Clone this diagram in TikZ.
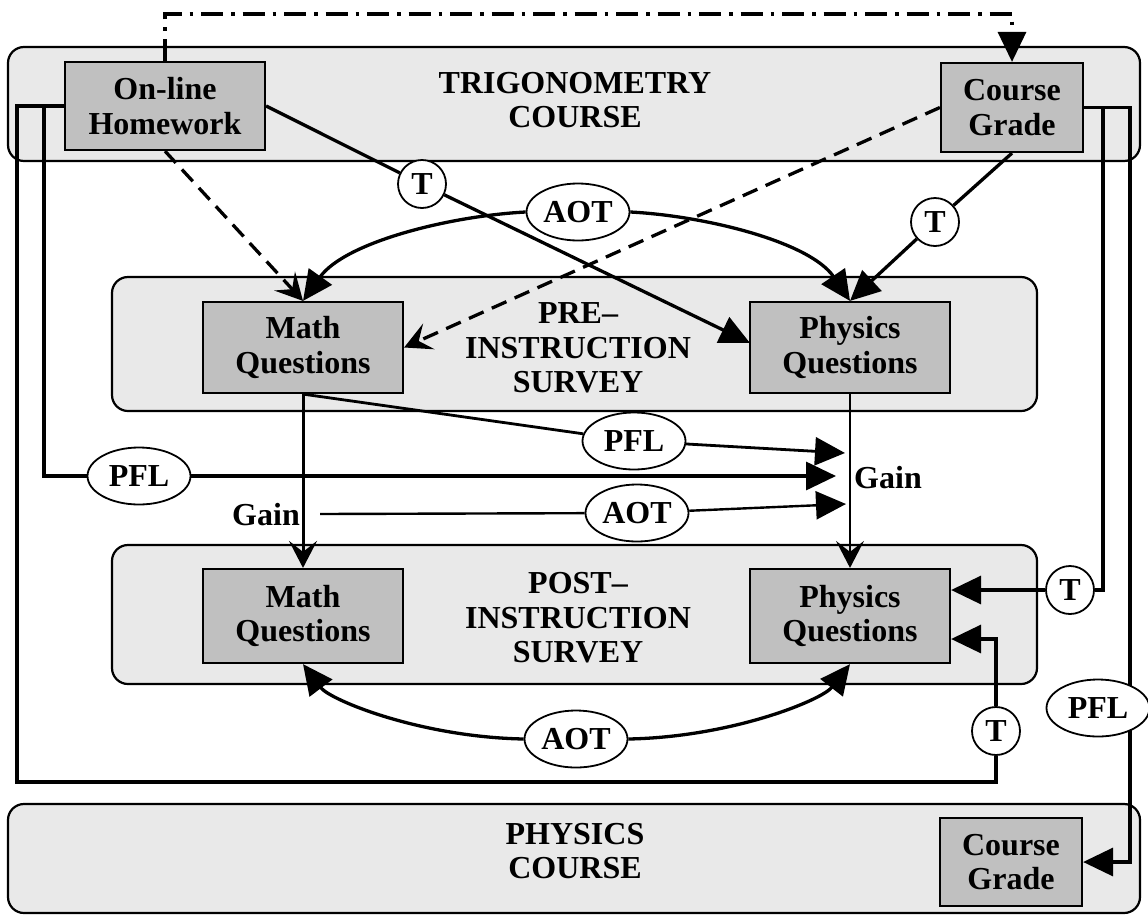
\documentclass[tikz,border=0pt]{standalone}
\usepackage{fontspec}
\setmainfont{Liberation Serif}
\usetikzlibrary{arrows.meta,shapes.geometric,calc}
\definecolor{panel}{HTML}{E9E9E9}
\definecolor{boxg}{HTML}{C0C0C0}
\begin{document}
\begin{tikzpicture}[x=1pt,y=-1pt,
  every node/.style={font=\fontsize{32}{34.5}\selectfont\bfseries, align=center, inner sep=0pt},
  panelbox/.style={draw, fill=panel, line width=2.2pt, rounded corners=16pt},
  qbox/.style={draw, fill=boxg, line width=2.2pt, minimum width=200pt},
  tcirc/.style={draw, fill=white, circle, line width=1.8pt, minimum size=48pt},
  oval/.style={draw, fill=white, ellipse, line width=1.8pt, minimum width=103pt, minimum height=57pt},
  conn/.style={line width=3.3pt},
  tri/.style={-{Triangle[length=30pt,width=28pt]}},
  barb/.style={-{Stealth[length=27pt,width=28pt,inset=11pt]}},
  dsh/.style={conn, dash pattern=on 16pt off 9pt},
  dashdot/.style={conn, dash pattern=on 22pt off 8pt on 3.5pt off 8pt},
]
\useasboundingbox (0,0) rectangle (1148,916);
% panels
\node[panelbox, minimum width=1132pt, minimum height=114pt] (trig) at (574,104) {};
\node[panelbox, minimum width=925pt, minimum height=134pt] (pre) at (574.5,344) {};
\node[panelbox, minimum width=925pt, minimum height=139pt] (post) at (574.5,614.5) {};
\node[panelbox, minimum width=1132pt, minimum height=109pt] (phys) at (574,858.5) {};
% titles
\node (trigt) at (575,100) {TRIGONOMETRY\\COURSE};
\node (pret) at (578,348) {PRE–\\INSTRUCTION\\SURVEY};
\node (postt) at (578,618) {POST–\\INSTRUCTION\\SURVEY};
\node (physt) at (575,851) {PHYSICS\\COURSE};
% boxes
\node[qbox, minimum height=88pt] (hw) at (165,106) {On-line\\Homework};
\node[qbox, minimum width=142pt, minimum height=89pt] (cg1) at (1012,107.5) {Course\\Grade};
\node[qbox, minimum height=91pt] (mathpre) at (303,347.5) {Math\\Questions};
\node[qbox, minimum height=91pt] (physpre) at (850,347.5) {Physics\\Questions};
\node[qbox, minimum height=94pt] (mathpost) at (303,616) {Math\\Questions};
\node[qbox, minimum height=94pt] (physpost) at (850,616) {Physics\\Questions};
\node[qbox, minimum width=142pt, minimum height=88pt] (cg2) at (1011,862) {Course\\Grade};
% labels
\node[tcirc] (t1) at (422,184) {T};
\node[tcirc] (t2) at (935,222) {T};
\node[tcirc] (t3) at (1070,590) {T};
\node[tcirc] (t4) at (996,731) {T};
\node[oval] (aot1) at (578,212) {AOT};
\node[oval] (pfl1) at (634,441) {PFL};
\node[oval] (pfl2) at (139,476) {PFL};
\node[oval] (aot2) at (637,513) {AOT};
\node[oval] (aot3) at (576,739) {AOT};
\node (gainl) at (266,515) {Gain};
\node (gainr) at (888,478) {Gain};
% coordinates
\coordinate (g1) at (845,453);
\coordinate (g2) at (836,476);
\coordinate (g3) at (846,504);
\coordinate (a0) at (320,514);
\coordinate (p1) at (750,343);
\coordinate (hl1) at (44,106);
\coordinate (hl2) at (17,106);
\coordinate (top) at (165,14);
\coordinate (lb1) at (17,782);
\coordinate (lb2) at (996,782);
\coordinate (q2) at (996,639);
\coordinate (r1) at (1103,590);
\coordinate (r2) at (1130,862);
% connectors
\draw[dashdot, tri] (hw.north) -- (hw.north |- top) -| (cg1.north);
\draw[dsh, barb] (hw.south) -- (mathpre.north);
\draw[dsh, barb] (cg1.west) -- (mathpre.east);
\draw[conn, tri] (hw.east) -- (t1) -- (p1);
\draw[conn, tri] (cg1.south) -- (t2) -- (physpre.north);
\draw[conn, tri] (aot1.west) .. controls (450,216) and (345,242) .. (mathpre.north);
\draw[conn, tri] (aot1.east) .. controls (706,216) and (810,242) .. (physpre.north);
\draw[line width=2.8pt, tri] (mathpre.south) -- (pfl1) -- (g1);
\draw[conn, tri] (hl1) -- (hl1 |- pfl2) -- (pfl2) -- (g2);
\draw[line width=2.4pt, tri] (a0) -- (aot2) -- (g3);
\draw[line width=3pt, barb] (mathpre.south) -- (mathpost.north);
\draw[line width=1.6pt, barb] (physpre.south) -- (physpost.north);
\draw[conn, tri] (hw.west) -- (hl2) -- (lb1) -- (lb2) -- (t4) -- (q2) -- (physpost.east |- q2);
\draw[conn, tri] (cg1.east) -| (r1) -- (t3) -- (physpost.east |- t3);
\draw[conn, tri] (cg1.east) -| (r2) -- (cg2.east);
\node[oval] (pfl3) at (1098,708) {PFL};
\draw[conn, tri] (aot3.west) .. controls (420,737) and (330,700) .. (mathpost.south);
\draw[conn, tri] (aot3.east) .. controls (732,737) and (822,700) .. (physpost.south);
\end{tikzpicture}
\end{document}
